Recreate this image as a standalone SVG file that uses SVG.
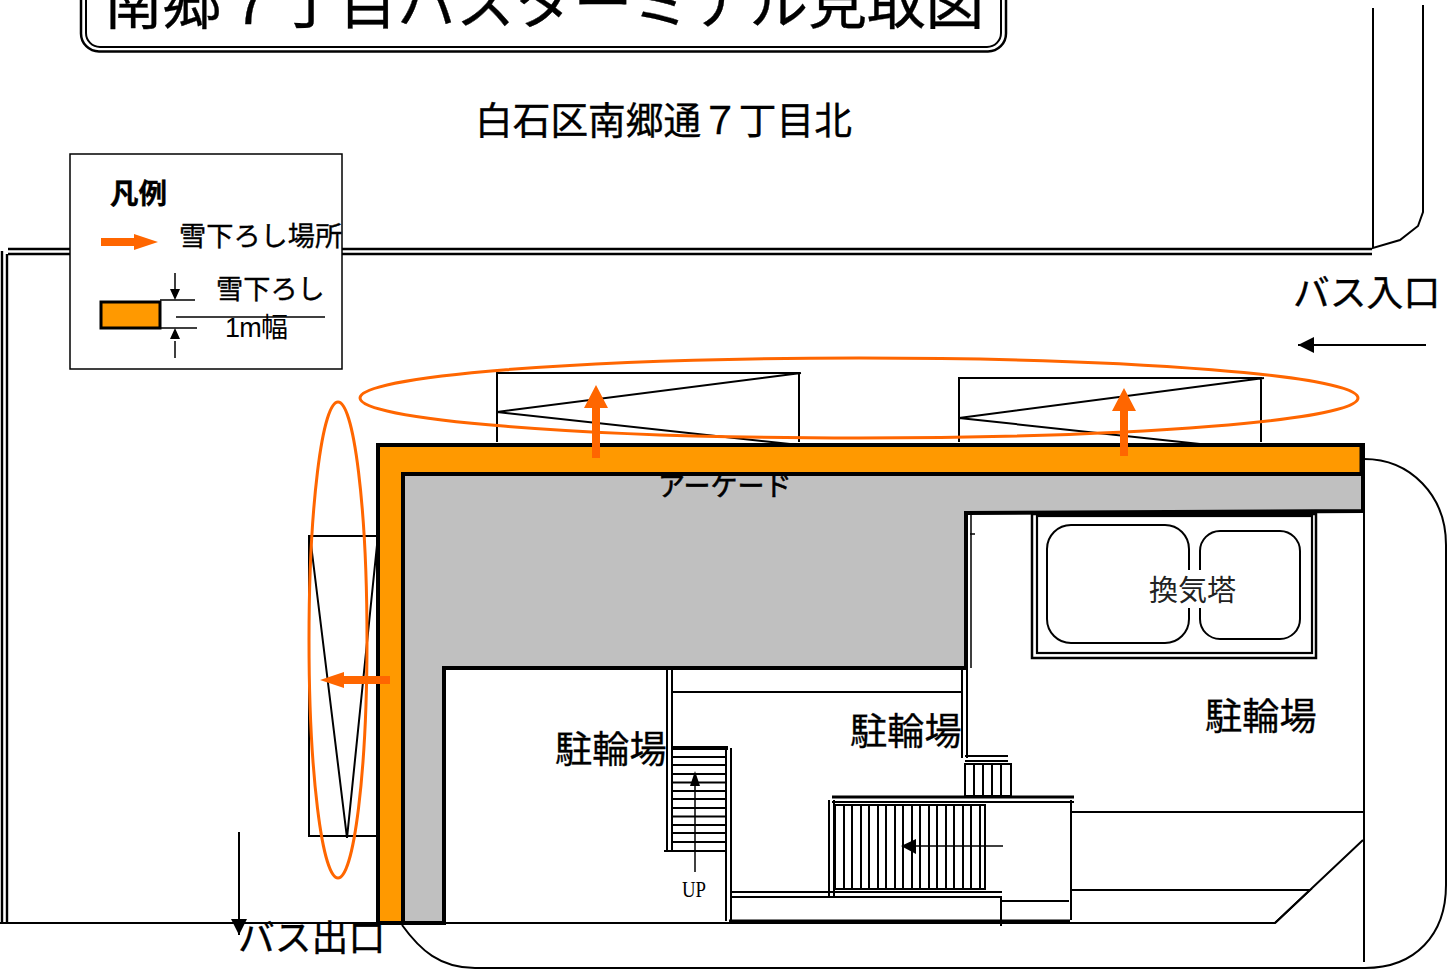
<svg xmlns="http://www.w3.org/2000/svg" width="1454" height="977" viewBox="0 0 1454 977">
<style>
text{font-family:"Noto Sans CJK JP","Liberation Sans",sans-serif;fill:#000;stroke:#000;stroke-width:.35}
.l{fill:none;stroke:#000;stroke-width:2}
.r{fill:none;stroke:#000;stroke-width:2.4}
.t{fill:none;stroke:#000;stroke-width:1.5}
.h{fill:none;stroke:#000;stroke-width:4}
.o{fill:#ff6600}
.e{fill:none;stroke:#ff6600;stroke-width:3}
</style>
<defs>
<marker id="ah" viewBox="0 0 10 10" refX="10" refY="5" markerWidth="16" markerHeight="16" markerUnits="userSpaceOnUse" orient="auto"><path d="M0 0L10 5L0 10Z" fill="#000"/></marker>
</defs>
<rect width="1454" height="977" fill="#fff"/>
<g id="title">
<rect x="81" y="-40" width="925" height="91.500" rx="18" fill="none" stroke="#000" stroke-width="2.500"/>
<rect x="86" y="-40" width="915" height="87" rx="14" fill="none" stroke="#000" stroke-width="2"/>
<text x="104" y="24" font-size="58.700">南郷７丁目バスターミナル見取図</text>
</g>
<g id="road-labels">
<text x="475" y="134" font-size="37.700">白石区南郷通７丁目北</text>
<text x="1293" y="306" font-size="36.800">バス入口</text>
<text x="238" y="951" font-size="36.800">バス出口</text>
</g>
<g id="connectors">
<path class="r" d="M8 249H1372M8 254H1372"/>
<path class="r" d="M2 251V923M7 254V923"/>
<path class="l" d="M0 923H1275L1363 840"/>
<path class="l" d="M1373 8V248L1400 240L1418 226L1423 212V5"/>
<path class="l" d="M1364 459C1410 459 1446 495 1446 545V885C1446 935 1415 968 1365 968H475C440 968 420 950 402 925"/>
<path class="l" d="M1364 511V962"/>
<path class="l" d="M1426 345H1298" marker-end="url(#ah)"/>
<path class="l" d="M239 832V935" marker-end="url(#ah)"/>
</g>
<g id="canopies">
<path class="l" d="M497 442V373H799V442M801 373L497 412L790 444"/>
<path class="l" d="M959 442V378H1261V442M1264 378L959 418L1200 444"/>
<path class="l" d="M377 536H309V836H377M310 536L347 838L377 545"/>
</g>
<g id="arcade">
<path d="M403 474H1363V511H966V668H444V923H403Z" fill="#c0c0c0"/>
<path d="M378 445H1361V474H403V923H378Z" fill="#ff9900"/>
<path d="M378 923V445H1363V511L966 513V668H444V923ZM403 923V474H1363" fill="none" stroke="#000" stroke-width="4"/>
<path d="M1361 445V474" fill="none" stroke="#000" stroke-width="3"/>
<text x="658" y="496" font-size="27" style="stroke-width:.6">アーケード</text>
</g>
<g id="snow-marks">
<ellipse class="e" cx="859" cy="398" rx="499" ry="40"/>
<ellipse class="e" cx="338" cy="640" rx="29" ry="238"/>
<path class="o" d="M592 458V408H584L596 385L608 408H600V458Z"/>
<path class="o" d="M1120 456V411H1112L1124 388L1136 411H1128V456Z"/>
<path class="o" d="M390 676H344V672L320 680L344 688V684H390Z"/>
</g>
<g id="vent-tower">
<rect x="1032" y="514" width="284" height="144" fill="none" stroke="#000" stroke-width="2.500"/>
<rect x="1037" y="516" width="275" height="137" fill="none" stroke="#000" stroke-width="2.200"/>
<rect x="1047" y="525" width="142" height="118" rx="24" class="l"/>
<rect x="1200" y="531" width="100" height="108" rx="20" class="l"/>
<rect x="1186" y="570" width="18" height="38" fill="#fff"/>
<text x="1149" y="601" font-size="29" style="fill:#222;stroke:none">換気塔</text>
</g>
<g id="structure">
<path class="t" d="M966 513V668M971 513V668M970 534H975"/>
<path class="l" d="M667 668V852M672 668V852M672 692H962M962 668V758M967 668V758"/>
<path class="h" d="M672 748H728"/>
<path class="l" d="M726 748V921M731 748V921M664 851H726"/>
<path class="l" d="M672 757H725M672 765H725M672 774H725M672 782.500H725M672 791H725M672 799H725M672 808H725M672 816.500H725M672 825H725M672 833H725M672 842H725"/>
<path class="t" d="M695 872V785"/>
<path d="M695 771L700 786H690Z"/>
<path class="l" d="M965 756H1008M965 761H1008"/>
<rect x="965" y="764" width="46" height="32" class="l"/>
<path class="l" d="M974 764V796M983 764V796M992 764V796M1001 764V796"/>
<path class="l" d="M832 797H1074" style="stroke-width:2.800"/>
<path class="l" d="M832 802H1074M829 800V897M834 800V897"/>
<rect x="835" y="805" width="150" height="84" class="l"/>
<path class="l" d="M844 805V889M852 805V889M861 805V889M869 805V889M878 805V889M886 805V889M895 805V889M903 805V889M912 805V889M920 805V889M929 805V889M937 805V889M946 805V889M954 805V889M963 805V889M971 805V889M980 805V889"/>
<path class="t" d="M1003 846H915"/>
<path d="M901 846L916 839V854Z"/>
<path class="l" d="M730 892H1002M730 897H1002M1001 897V926M1002 901H1069M1071 800V920M1071 812H1364M1071 890H1310L1275 923"/>
<path class="h" d="M729 921.500H1070"/>
<text x="682" y="897" font-size="24" textLength="24" lengthAdjust="spacingAndGlyphs" style="font-family:'Liberation Serif',serif;stroke:none">UP</text>
<text x="555" y="763" font-size="37.200">駐輪場</text>
<text x="850" y="745" font-size="37.200">駐輪場</text>
<text x="1205" y="730" font-size="37.200">駐輪場</text>
</g>
<g id="legend">
<rect x="70" y="154" width="272" height="215" fill="#fff" stroke="#000" stroke-width="1.500"/>
<text x="110" y="204" font-size="28.500" font-weight="700">凡例</text>
<path class="o" d="M101 238H134V234L158 242L134 250V246H101Z"/>
<text x="179" y="246" font-size="27.200">雪下ろし場所</text>
<text x="216" y="299" font-size="27.200">雪下ろし</text>
<rect x="101" y="302" width="59" height="26" fill="#ff9900" stroke="#000" stroke-width="3"/>
<path class="t" d="M160 300H195M160 328H197M176 317H325M175 273V290M175 341V358"/>
<path d="M175 300L170 289H180ZM175 328L170 339H180Z"/>
<text x="225" y="337" font-size="27" textLength="63" lengthAdjust="spacing" style="font-family:'Liberation Sans','Noto Sans CJK JP',sans-serif;stroke:none">1m幅</text>
</g>
</svg>
